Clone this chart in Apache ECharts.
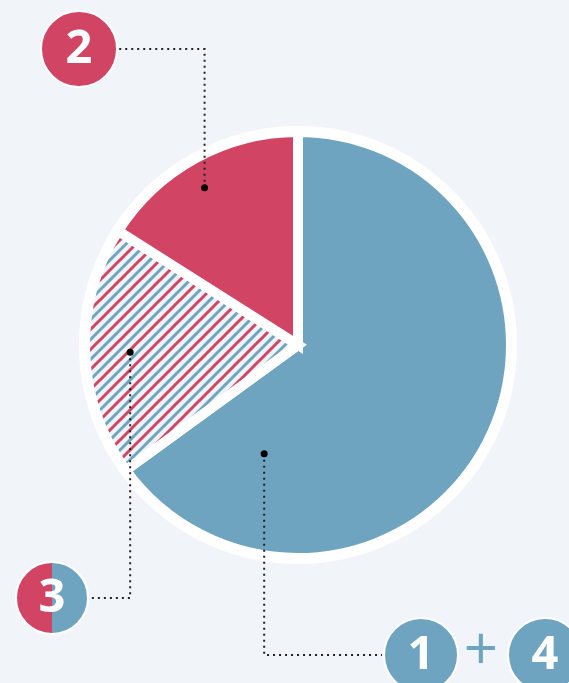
<!DOCTYPE html>
<html>
<head>
<meta charset="utf-8">
<script src="https://cdn.jsdelivr.net/npm/echarts@6/dist/echarts.min.js"></script>
<style>
html,body{margin:0;padding:0;background:#f1f5f9;}
#chart{width:569px;height:683px;}
</style>
</head>
<body>
<div id="chart"></div>
<script>
// ---- data ----
const categories = ['1 + 4', '3', '2'];
const values = [65, 19, 16];
const badgeLabels = ['1', '3', '2'];

// ---- styling ----
const BG = '#f1f5f9';
const RED = '#d14463';
const BLUE = '#6fa4c0';
const CX = 298, CY = 345;
const R_COLOR = 213;      // pie radius (border eats 5px)
const R_RING = 219;

function stripePattern() {
  const P = 20;
  const c = document.createElement('canvas');
  c.width = P; c.height = P;
  const g = c.getContext('2d');
  g.fillStyle = '#eef3f7';
  g.fillRect(0, 0, P, P);
  g.lineWidth = 3;
  const draw = (k, col) => {
    g.strokeStyle = col;
    g.beginPath();
    g.moveTo(-6, k + 6);
    g.lineTo(k + 6, -6);
    g.stroke();
  };
  [0, P, 2 * P].forEach(k => draw(k, RED));
  [P / 2, 1.5 * P].forEach(k => draw(k, BLUE));
  return c;
}

const sliceColors = [BLUE, { image: stripePattern(), repeat: 'repeat' }, RED];

const chart = echarts.init(document.getElementById('chart'), null, { renderer: 'canvas' });

// annotation anchors: [fraction within slice angle, radius]
const anchors = [[0.843, 114], [0.49, 168], [0.467, 183]];
const total = values.reduce((a, b) => a + b, 0);
let start = 90;
const dots = values.map((v, i) => {
  const span = v / total * 360;
  const ang = (start - span * anchors[i][0]) * Math.PI / 180;
  start -= span;
  return [CX + anchors[i][1] * Math.cos(ang), CY - anchors[i][1] * Math.sin(ang)];
});

// badges: [cx, cy, r]
const badges = [[421, 655, 37], [52, 598, 36], [79, 49, 38]];

const dotted = { stroke: '#222', lineWidth: 2, lineDash: [2, 4] };
const graphics = [];
dots.forEach((d, i) => {
  const b = badges[i];
  const edgeX = b[0] > d[0] ? b[0] - b[2] - 2 : b[0] + b[2] + 2;
  graphics.push({
    type: 'polyline', z: 10, silent: true,
    shape: { points: [[d[0], d[1]], [d[0], b[1]], [edgeX, b[1]]] },
    style: Object.assign({ fill: null }, dotted)
  });
  graphics.push({
    type: 'circle', z: 11, silent: true,
    shape: { cx: d[0], cy: d[1], r: 3.5 },
    style: { fill: '#000' }
  });
});

function badge(b, fill, txt) {
  graphics.push({
    type: 'circle', z: 12, silent: true,
    shape: { cx: b[0], cy: b[1], r: b[2] },
    style: { fill: fill, stroke: '#ffffff', lineWidth: 2 }
  });
  graphics.push({
    type: 'text', z: 13, silent: true,
    x: b[0], y: b[1] + 1,
    style: {
      text: txt, fill: '#fff', font: 'bold 47px "Open Sans", sans-serif',
      align: 'center', verticalAlign: 'middle'
    }
  });
}
badge(badges[0], BLUE, badgeLabels[0]);
badge(badges[2], RED, badgeLabels[2]);
badge(badges[1], {
  type: 'linear', x: 0, y: 0, x2: 1, y2: 0,
  colorStops: [{ offset: 0, color: RED }, { offset: 0.5, color: RED }, { offset: 0.5, color: BLUE }, { offset: 1, color: BLUE }]
}, badgeLabels[1]);
badge([545, 655, 37], BLUE, '4');
graphics.push({
  type: 'text', z: 13, silent: true, x: 481, y: 653,
  style: { text: '+', fill: BLUE, font: '400 60px "Open Sans", sans-serif', align: 'center', verticalAlign: 'middle' }
});

chart.setOption({
  backgroundColor: BG,
  animation: false,
  series: [
    {
      type: 'pie', silent: true, center: [CX, CY], radius: R_RING,
      label: { show: false }, labelLine: { show: false },
      itemStyle: { color: '#ffffff' },
      data: [{ value: 1, name: 'ring' }], z: 1
    },
    {
      type: 'pie', silent: true, center: [CX, CY], radius: R_COLOR,
      startAngle: 90, clockwise: true,
      label: { show: false }, labelLine: { show: false },
      itemStyle: { borderColor: '#ffffff', borderWidth: 10, borderJoin: 'miter' },
      data: categories.map((c, i) => ({ name: c, value: values[i], itemStyle: { color: sliceColors[i] } })),
      z: 2
    }
  ],
  graphic: graphics
});
</script>
</body>
</html>
